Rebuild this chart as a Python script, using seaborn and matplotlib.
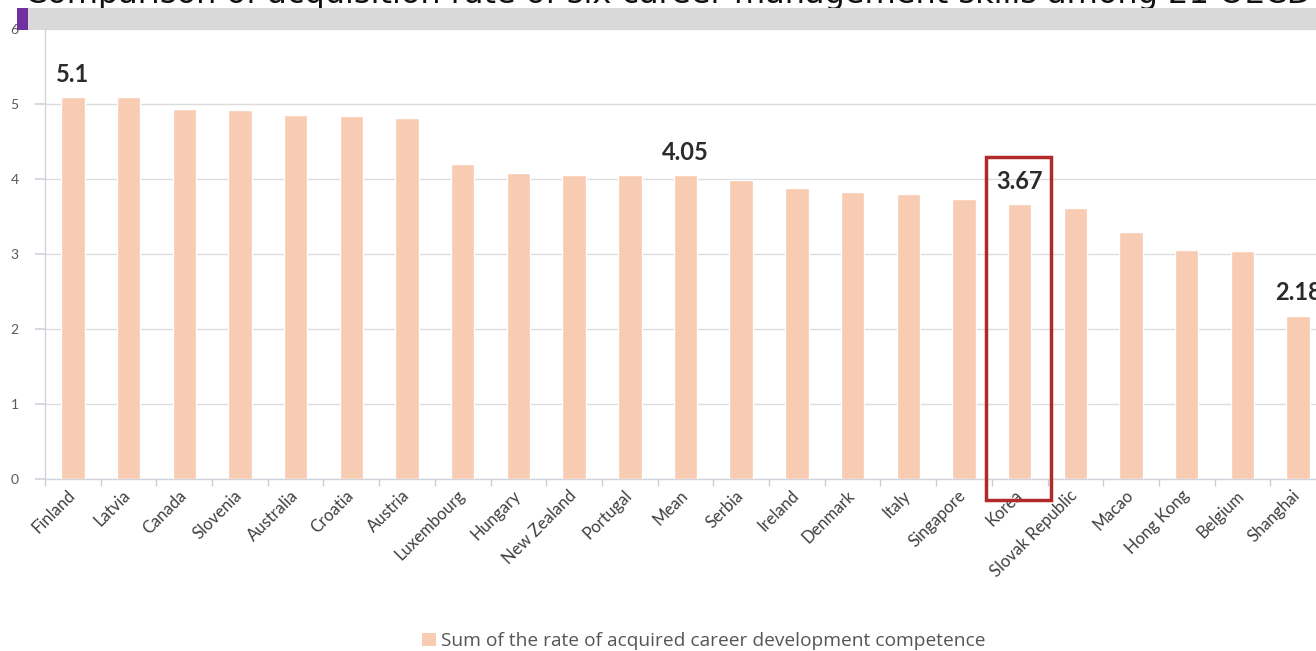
import matplotlib
matplotlib.use("Agg")
import matplotlib.pyplot as plt
import matplotlib.transforms as mtransforms
from matplotlib.transforms import Bbox
import seaborn as sns
import pandas as pd
from matplotlib.patches import Rectangle, Patch

countries = ["Finland", "Latvia", "Canada", "Slovenia", "Australia", "Croatia", "Austria",
             "Luxembourg", "Hungary", "New Zealand", "Portugal", "Mean", "Serbia", "Ireland",
             "Denmark", "Italy", "Singapore", "Korea", "Slovak Republic", "Macao", "Hong Kong",
             "Belgium", "Shanghai"]
values = [5.1, 5.09, 4.93, 4.92, 4.85, 4.84, 4.82,
          4.2, 4.08, 4.06, 4.05, 4.05, 3.99, 3.88,
          3.83, 3.8, 3.73, 3.67, 3.61, 3.29, 3.05,
          3.04, 2.18]
highlight_labels = {"Finland": "5.1", "Mean": "4.05", "Korea": "3.67", "Shanghai": "2.18"}
boxed = "Korea"
series_name = "Sum of the rate of acquired career development competence"
title = "Comparison of acquisition rate of six career management skills among 21 OECD countries"
yticks = [0, 1, 2, 3, 4, 5, 6]

W, H = 1316, 651
OFF = 50            # extra room above the saved area, so the title is drawn whole and then cropped
HT = H + OFF


def fy(y_px):
    """figure fraction for a pixel row measured from the top of the saved image"""
    return 1 - (y_px + OFF) / HT


sns.set_theme(style="white")
plt.rcParams["font.family"] = ["Lato", "DejaVu Sans"]

fig = plt.figure(figsize=(W / 100, HT / 100), dpi=100)
ax = fig.add_axes([45 / W, fy(479), (1326 - 45) / W, 450 / HT])

bar_color = "#f8ccb3"
df = pd.DataFrame({"country": countries, "value": values})
sns.barplot(data=df, x="country", y="value", color=bar_color, width=0.42,
            saturation=1, ax=ax, zorder=3)

ax.set_ylim(0, 6)
ax.set_xlim(-0.5, len(countries) - 0.5)
ax.set_yticks(yticks)
ax.set_yticklabels([str(t) for t in yticks], fontsize=10, color="#595959")
ax.yaxis.grid(True, color="#dcdcdc", linewidth=1, zorder=0)
ax.set_axisbelow(True)
ax.tick_params(axis="y", length=7, color="#d0d4dc", pad=12, left=True)
ax.set_xlabel("")
ax.set_ylabel("")

# x ticks: labels at centers, tick marks at category boundaries
ax.set_xticks(range(len(countries)))
ax.set_xticklabels(countries, rotation=45, ha="right", rotation_mode="anchor",
                   fontsize=12, color="#404040")
ax.tick_params(axis="x", length=0, pad=6)
shift = mtransforms.ScaledTranslation(-6 / 100, 0, fig.dpi_scale_trans)
for lab in ax.get_xticklabels():
    lab.set_transform(lab.get_transform() + shift)
ax.set_xticks([i - 0.5 for i in range(len(countries) + 1)], minor=True)
ax.tick_params(axis="x", which="minor", length=5, color="#c8ccd6", bottom=True)

for s in ["top", "right"]:
    ax.spines[s].set_visible(False)
for s in ["left", "bottom"]:
    ax.spines[s].set_color("#d0d4dc")
    ax.spines[s].set_linewidth(1)

for name, txt in highlight_labels.items():
    i = countries.index(name)
    ax.text(i, values[i] + 0.3, txt, ha="center", va="center", fontsize=17,
            fontweight="bold", color="#2b2b2b", clip_on=False, zorder=5)

ki = countries.index(boxed)
ax.add_patch(Rectangle((ki - 0.61, -0.28), 1.18, 4.57, fill=False,
                       edgecolor="#b02a2a", linewidth=2.5, clip_on=False, zorder=6))

# legend
handle = Patch(facecolor=bar_color, edgecolor="none", label=series_name)
fig.legend(handles=[handle], loc="center", bbox_to_anchor=(704 / W, fy(641)),
           frameon=False, handlelength=0.7, handleheight=0.7,
           handletextpad=0.3, labelcolor="#555555", prop={"family": "Open Sans", "size": 13.8})

# header band and cut-off title
fig.patches.append(Rectangle((17 / W, fy(30)), (W - 17) / W, 22 / HT,
                             transform=fig.transFigure, facecolor="#d9d9d9",
                             edgecolor="none", zorder=10))
fig.patches.append(Rectangle((17 / W, fy(30)), 11 / W, 22 / HT,
                             transform=fig.transFigure, facecolor="#7030a0",
                             edgecolor="none", zorder=11))
fig.text(25 / W, fy(3.5), title, fontsize=23, color="#111111",
         family="DejaVu Sans", ha="left", va="baseline", zorder=9)

fig.savefig("out.png", dpi=100, bbox_inches=Bbox.from_bounds(0, 0, W / 100, H / 100),
            pad_inches=0)
